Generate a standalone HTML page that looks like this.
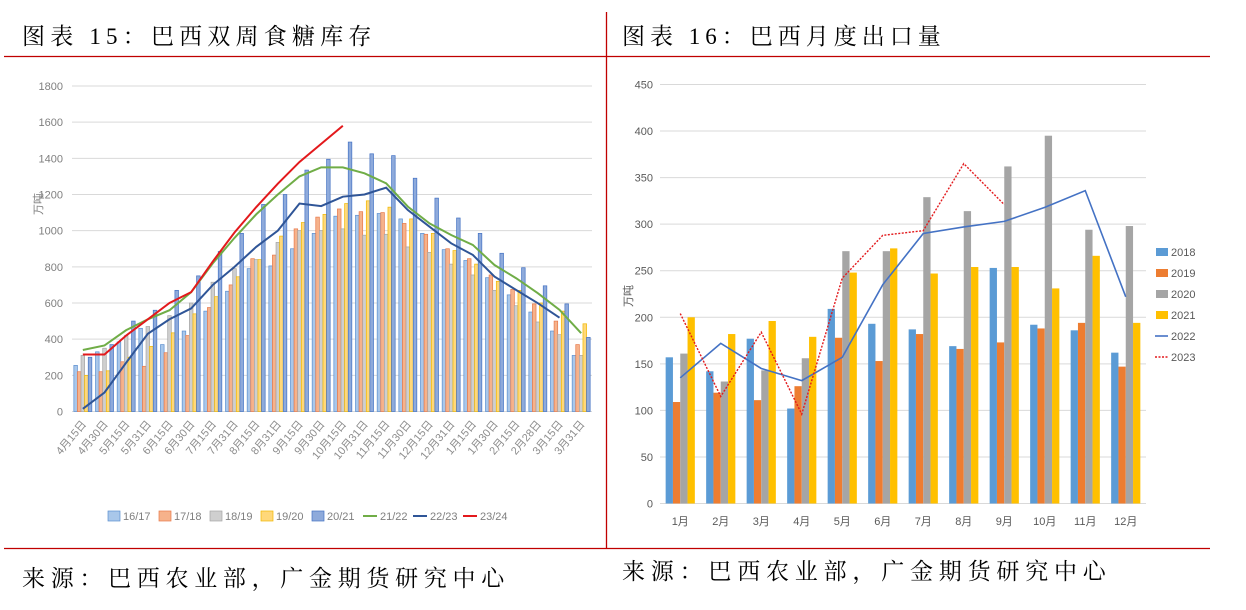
<!DOCTYPE html>
<html><head><meta charset="utf-8"><style>
body{margin:0;background:#fff;width:1246px;height:610px;overflow:hidden;font-family:"Liberation Serif","Noto Serif CJK SC",serif}
svg{position:absolute;left:0;top:0}
</style></head><body>
<svg id="s" width="1246" height="610">
<line x1="4" y1="56.5" x2="1210" y2="56.5" stroke="#c00000" stroke-width="1.3"/>
<line x1="4" y1="548.5" x2="1210" y2="548.5" stroke="#c00000" stroke-width="1.3"/>
<line x1="606.5" y1="12" x2="606.5" y2="548" stroke="#c00000" stroke-width="1.3"/>
<text x="22" y="44" font-size="23" letter-spacing="5.2" font-family="Liberation Serif,Noto Serif CJK SC,serif">图表 15：巴西双周食糖库存</text>
<text x="622" y="44" font-size="23" letter-spacing="5" font-family="Liberation Serif,Noto Serif CJK SC,serif">图表 16：巴西月度出口量</text>
<text x="22" y="586" font-size="23" letter-spacing="5.7" font-family="Liberation Serif,Noto Serif CJK SC,serif">来源：巴西农业部，广金期货研究中心</text>
<text x="622" y="579" font-size="23" letter-spacing="5.8" font-family="Liberation Serif,Noto Serif CJK SC,serif">来源：巴西农业部，广金期货研究中心</text>
<g id="L"></g><g id="R"></g>
</svg>
<script>
const cats1=["4月15日","4月30日","5月15日","5月31日","6月15日","6月30日","7月15日","7月31日","8月15日","8月31日","9月15日","9月30日","10月15日","10月31日","11月15日","11月30日","12月15日","12月31日","1月15日","1月30日","2月15日","2月28日","3月15日","3月31日"];
const s1617=[255,330,385,460,370,445,555,665,790,805,900,985,1080,1085,1095,1065,985,895,835,740,645,550,445,310];
const s1718=[220,220,275,250,325,420,575,700,845,865,1010,1075,1120,1105,1100,1040,980,900,845,755,675,595,500,370];
const s1819=[310,350,420,470,530,600,715,790,840,935,1000,1000,1010,975,980,910,880,815,755,670,585,495,425,310];
const s1920=[200,225,300,360,435,540,635,745,840,970,1045,1090,1150,1165,1130,1065,985,890,815,720,670,600,555,485];
const s2021=[300,370,500,560,670,750,885,985,1145,1200,1335,1395,1490,1425,1415,1290,1180,1070,985,875,795,695,595,410];
const l2122=[340,365,450,510,560,660,820,960,1090,1200,1300,1350,1350,1317,1262,1133,1040,976,921,810,737,654,562,433];
const l2223=[15,105,270,430,510,570,700,800,910,1000,1150,1136,1188,1200,1238,1114,1022,930,866,746,672,599,519];
const l2324=[315,315,420,510,600,660,830,990,1130,1260,1380,1480,1580];
const ticks1=[0,200,400,600,800,1000,1200,1400,1600,1800];
const barNames1=["16/17","17/18","18/19","19/20","20/21"];
const lineNames1=["21/22","22/23","23/24"];

const cats2=["1月","2月","3月","4月","5月","6月","7月","8月","9月","10月","11月","12月"];
const e2018=[157,142,177,102,209,193,187,169,253,192,186,162];
const e2019=[109,119,111,126,178,153,182,166,173,188,194,147];
const e2020=[161,131,143,156,271,271,329,314,362,395,294,298];
const e2021=[200,182,196,179,248,274,247,254,254,231,266,194];
const e2022=[135,172,145,132,157,235,290,297,303,318,336,222];
const e2023=[204,115,184,96,242,288,293,365,321];
const ticks2=[0,50,100,150,200,250,300,350,400,450];
const names2=["2018","2019","2020","2021","2022","2023"];

const NS="http://www.w3.org/2000/svg";
function mk(p,t,a){const e=document.createElementNS(NS,t);for(const k in a)e.setAttribute(k,a[k]);p.appendChild(e);return e;}
const F='Liberation Sans,Noto Sans CJK SC,sans-serif';

// LEFT chart
const L=document.getElementById('L');
const x0=72,x1=592,y0=411.5,yTop=86,vmax=1800;
const cw=(x1-x0)/cats1.length;
const yL=v=>y0-(v/vmax)*(y0-yTop);
const xL=i=>x0+cw*(i+0.5);
ticks1.forEach(t=>{
 const g=mk(L,'line',{x1:x0,x2:x1,y1:yL(t),y2:yL(t),stroke:'#d9d9d9','stroke-width':1});
 
 
 const tx=mk(L,'text',{x:63,y:yL(t)+4,'text-anchor':'end','font-size':11,fill:'#7f7f7f','font-family':F});
 tx.textContent=t;
 
 
});
const yt=mk(L,'text',{x:0,y:0,'font-size':11,fill:'#7f7f7f','font-family':F,transform:'translate(42,215) rotate(-90)'});
yt.textContent='万吨';


const bs1=[s1617,s1718,s1819,s1920,s2021];
const bf1=['#a9c7ea','#f6b28b','#cfcfcf','#ffd87a','#8eaadb'];
const bk1=['#5b8fd0','#e8794a','#a5a5a5','#f0b800','#4472c4'];
const bw=3.6;
bs1.forEach((arr,si)=>{arr.forEach((v,i)=>{
 const x=x0+cw*i+(cw-5*bw)/2+si*bw;
 const r=mk(L,'rect',{x:x,y:yL(v),width:bw,height:y0-yL(v),fill:bf1[si],stroke:bk1[si],'stroke-width':0.7});
 
 
});});
const ls1=[l2122,l2223,l2324],lc1=['#70ad47','#2f5597','#e3191c'];
ls1.forEach((arr,si)=>{
 const p=mk(L,'polyline',{points:arr.map((v,i)=>xL(i)+','+yL(v)).join(' '),fill:'none',stroke:lc1[si],'stroke-width':2});
 
 
});
cats1.forEach((c,i)=>{
 const t=mk(L,'text',{x:0,y:0,'text-anchor':'end','font-size':11,fill:'#8c8c8c','font-family':F,transform:`translate(${xL(i)+4},${y0+13}) rotate(-50)`});
 t.textContent=c;
 
 
});
let lx=108;
barNames1.forEach((n,i)=>{
 const r=mk(L,'rect',{x:lx,y:511,width:12,height:10,fill:bf1[i],stroke:bk1[i],'stroke-width':0.7});
 
 
 const t=mk(L,'text',{x:lx+15,y:520,'font-size':11,fill:'#7f7f7f','font-family':F});
 t.textContent=n;
 
 
 lx+=51;
});
lineNames1.forEach((n,i)=>{
 const l=mk(L,'line',{x1:lx,x2:lx+14,y1:516,y2:516,stroke:lc1[i],'stroke-width':2});
 
 
 const t=mk(L,'text',{x:lx+17,y:520,'font-size':11,fill:'#7f7f7f','font-family':F});
 t.textContent=n;
 
 
 lx+=50;
});

// RIGHT chart
const R=document.getElementById('R');
const rx0=660,rx1=1146,ry0=503.5,ryT=84.5,rmax=450;
const rcw=(rx1-rx0)/cats2.length;
const yR=v=>ry0-(v/rmax)*(ry0-ryT);
const xR=i=>rx0+rcw*(i+0.5);
ticks2.forEach(t=>{
 const g=mk(R,'line',{x1:rx0,x2:rx1,y1:yR(t),y2:yR(t),stroke:'#d9d9d9','stroke-width':1});
 
 
 const tx=mk(R,'text',{x:653,y:yR(t)+4,'text-anchor':'end','font-size':11,fill:'#595959','font-family':F});
 tx.textContent=t;
 
 
});
const yt2=mk(R,'text',{x:0,y:0,'font-size':11,fill:'#595959','font-family':F,transform:'translate(632,307) rotate(-90)'});
yt2.textContent='万吨';


const bs2=[e2018,e2019,e2020,e2021],bc2=['#5b9bd5','#ed7d31','#a5a5a5','#ffc000'];
const rbw=7.3;
bs2.forEach((arr,si)=>{arr.forEach((v,i)=>{
 const x=rx0+rcw*i+(rcw-4*rbw)/2+si*rbw;
 const r=mk(R,'rect',{x:x,y:yR(v),width:rbw,height:ry0-yR(v),fill:bc2[si]});
 
 
});});
const p22=mk(R,'polyline',{points:e2022.map((v,i)=>xR(i)+','+yR(v)).join(' '),fill:'none',stroke:'#4472c4','stroke-width':1.6});


const p23=mk(R,'polyline',{points:e2023.map((v,i)=>xR(i)+','+yR(v)).join(' '),fill:'none',stroke:'#e3191c','stroke-width':1.4,'stroke-dasharray':'2,1.5'});


cats2.forEach((c,i)=>{
 const t=mk(R,'text',{x:xR(i),y:525,'text-anchor':'middle','font-size':11,fill:'#595959','font-family':F});
 t.textContent=c;
 
 
});
names2.forEach((n,i)=>{
 const y=252+i*21;
 let sw;
 if(i<4){sw=mk(R,'rect',{x:1156,y:y-4,width:12,height:8,fill:bc2[i]});}
 else{sw=mk(R,'line',{x1:1155,x2:1168,y1:y,y2:y,stroke:i==4?'#4472c4':'#e3191c','stroke-width':1.6,'stroke-dasharray':i==5?'2,1.5':'none'});}
 
 
 const t=mk(R,'text',{x:1171,y:y+4,'font-size':11,fill:'#595959','font-family':F});
 t.textContent=n;
 
 
});
</script>
</body></html>
